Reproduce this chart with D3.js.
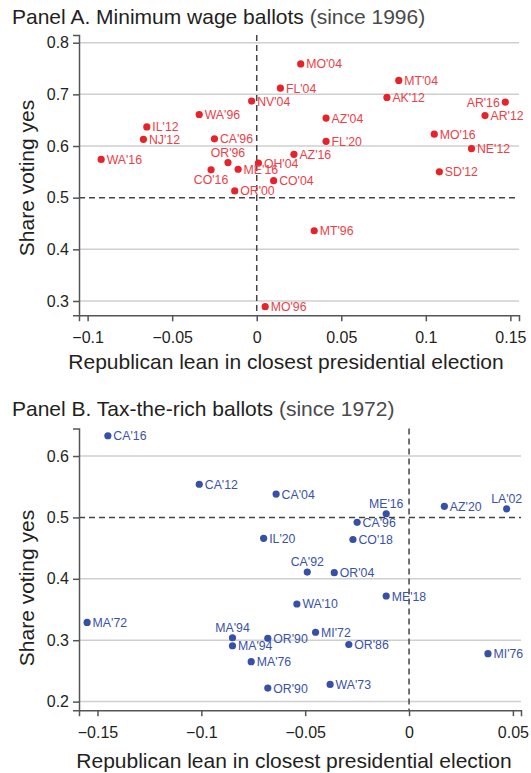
<!DOCTYPE html>
<html>
<head>
<meta charset="utf-8">
<script src="https://cdn.jsdelivr.net/npm/d3@7"></script>
<style>
  body { margin: 0; background: #fff; }
  text { font-family: "Liberation Sans", Arial, Helvetica, sans-serif; }
</style>
</head>
<body>
<div id="chart"></div>
<script>
// Panel A: minimum wage ballots
const minLabels = ["WA'16", "IL'12", "NJ'12", "WA'96", "CA'96", "NV'04", "FL'04", "MO'04", "MT'04", "AK'12",
  "AR'16", "AR'12", "AZ'04", "FL'20", "MO'16", "NE'12", "AZ'16", "OR'96", "CO'16", "ME'16",
  "OH'04", "CO'04", "OR'00", "SD'12", "MT'96", "MO'96"]
const minLean = [-0.092, -0.065, -0.067, -0.034, -0.025, -0.003, 0.014, 0.026, 0.084, 0.077,
  0.147, 0.135, 0.041, 0.041, 0.105, 0.127, 0.022, -0.017, -0.027, -0.011,
  0.001, 0.010, -0.013, 0.108, 0.034, 0.005]
const minYes = [0.574, 0.637, 0.613, 0.661, 0.614, 0.687, 0.712, 0.759, 0.727, 0.694,
  0.685, 0.659, 0.654, 0.609, 0.623, 0.595, 0.584, 0.568, 0.554, 0.555,
  0.567, 0.533, 0.513, 0.550, 0.436, 0.289]
const minXTicks = [-0.1, -0.05, 0, 0.05, 0.1, 0.15]
const minYTicks = [0.3, 0.4, 0.5, 0.6, 0.7, 0.8]

// Panel B: tax-the-rich ballots
const taxLabels = ["CA'16", "CA'12", "CA'04", "ME'16", "CA'96", "AZ'20", "LA'02", "IL'20", "CO'18", "CA'92",
  "OR'04", "ME'18", "WA'10", "MA'72", "MA'94", "MA'94", "OR'90", "MI'72", "OR'86", "MA'76",
  "MI'76", "OR'90", "WA'73"]
const taxLean = [-0.145, -0.101, -0.064, -0.011, -0.025, 0.017, 0.047, -0.070, -0.027, -0.049,
  -0.036, -0.011, -0.054, -0.155, -0.085, -0.085, -0.068, -0.045, -0.029, -0.076,
  0.038, -0.068, -0.038]
const taxYes = [0.633, 0.554, 0.538, 0.506, 0.492, 0.518, 0.514, 0.466, 0.464, 0.411,
  0.410, 0.372, 0.359, 0.329, 0.304, 0.291, 0.303, 0.313, 0.293, 0.265,
  0.278, 0.222, 0.228]
const taxXTicks = [-0.15, -0.1, -0.05, 0, 0.05]
const taxYTicks = [0.2, 0.3, 0.4, 0.5, 0.6]

// where each point label sits (default: right of the dot)
const minLabelSide = { 10: "left", 17: "above", 18: "below" }
const taxLabelSide = { 3: "above", 6: "above", 9: "above", 14: "above" }

const svg = d3.select("#chart").append("svg")
  .attr("width", 531)
  .attr("height", 773)

function drawPanel(p) {
  const g = svg.append("g")
  let x = d3.scaleLinear().domain(p.xDomain).range([p.left, p.right])
  let y = d3.scaleLinear().domain(p.yDomain).range([p.bottom, p.top])

  // title
  const t = g.append("text")
    .attr("x", 12).attr("y", p.titleY)
    .attr("font-size", 21).attr("fill", "#231f20")
  t.append("tspan").text(p.title)
  t.append("tspan").attr("fill", "#4a4a4a").text(" " + p.subtitle)

  // gridlines
  g.selectAll(".grid")
    .data(p.yTicks.filter(d => d !== 0.5))
    .enter().append("line")
    .attr("x1", p.left).attr("x2", p.right)
    .attr("y1", d => y(d)).attr("y2", d => y(d))
    .attr("stroke", "#cfcfcf").attr("stroke-width", 1.5)

  // reference lines
  g.append("line")
    .attr("x1", p.left).attr("x2", p.right)
    .attr("y1", y(0.5)).attr("y2", y(0.5))
    .attr("stroke", "#444").attr("stroke-width", 1.5).attr("stroke-dasharray", "6,4")
  g.append("line")
    .attr("x1", x(0)).attr("x2", x(0))
    .attr("y1", p.top).attr("y2", p.bottom)
    .attr("stroke", "#444").attr("stroke-width", 1.5).attr("stroke-dasharray", "6,4")

  // axes
  const xAxis = g.append("g")
    .attr("transform", "translate(0," + p.bottom + ")")
    .call(d3.axisBottom(x).tickValues(p.xTicks).tickSize(6).tickPadding(10)
      .tickFormat(d => d === 0 ? "0" : d3.format("")(d)))
  const yAxis = g.append("g")
    .attr("transform", "translate(" + p.left + ",0)")
    .call(d3.axisLeft(y).tickValues(p.yTicks).tickSize(6).tickPadding(4)
      .tickFormat(d3.format(".1f")))
  for (const a of [xAxis, yAxis]) {
    a.select(".domain").attr("stroke", "#555").attr("stroke-width", 1.5)
    a.selectAll(".tick line").attr("stroke", "#555").attr("stroke-width", 1.5)
    a.selectAll(".tick text").attr("font-size", 16).attr("fill", "#231f20")
      .attr("font-family", "Liberation Sans, Arial, sans-serif")
  }

  // axis titles
  g.append("text")
    .attr("x", p.xLabelX).attr("y", p.xLabelY)
    .attr("text-anchor", "middle").attr("font-size", 21).attr("fill", "#231f20")
    .text("Republican lean in closest presidential election")
  g.append("text")
    .attr("transform", "translate(34," + p.yLabelY + ") rotate(-90)")
    .attr("text-anchor", "middle").attr("font-size", 21).attr("fill", "#231f20")
    .text("Share voting yes")

  const pts = p.labels.map((l, i) => ({ label: l, lean: p.lean[i], yes: p.yes[i], side: p.side[i] || "right" }))

  g.selectAll(".dot")
    .data(pts)
    .enter().append("circle")
    .attr("cx", d => x(d.lean))
    .attr("cy", d => y(d.yes))
    .attr("r", 3.6)
    .attr("fill", p.dotColor)

  g.selectAll(".lbl")
    .data(pts)
    .enter().append("text")
    .attr("font-size", 12.3)
    .attr("fill", p.labelColor)
    .attr("x", function (d) {
      if (d.side === "right") return x(d.lean) + 5.5
      if (d.side === "left") return x(d.lean) - 5.5
      return x(d.lean)
    })
    .attr("y", function (d) {
      if (d.side === "above") return y(d.yes) - 6
      if (d.side === "below") return y(d.yes) + 14
      return y(d.yes) + 4.5
    })
    .attr("text-anchor", d => d.side === "left" ? "end" : (d.side === "right" ? "start" : "middle"))
    .text(d => d.label)
}

drawPanel({
  title: "Panel A. Minimum wage ballots", subtitle: "(since 1996)", titleY: 24,
  xDomain: [-0.1051, 0.1551], yDomain: [0.2723, 0.8149],
  left: 79, right: 519, top: 35, bottom: 315.3,
  xTicks: minXTicks, yTicks: minYTicks,
  xLabelX: 286, xLabelY: 369, yLabelY: 178,
  labels: minLabels, lean: minLean, yes: minYes, side: minLabelSide,
  dotColor: "#e8222b", labelColor: "#ec4048"
})

drawPanel({
  title: "Panel B. Tax-the-rich ballots", subtitle: "(since 1972)", titleY: 416,
  xDomain: [-0.1589, 0.0539], yDomain: [0.186, 0.645],
  left: 79, right: 521, top: 428.4, bottom: 710.2,
  xTicks: taxXTicks, yTicks: taxYTicks,
  xLabelX: 294, xLabelY: 768, yLabelY: 588,
  labels: taxLabels, lean: taxLean, yes: taxYes, side: taxLabelSide,
  dotColor: "#3550a6", labelColor: "#3a52a8"
})
</script>
</body>
</html>
